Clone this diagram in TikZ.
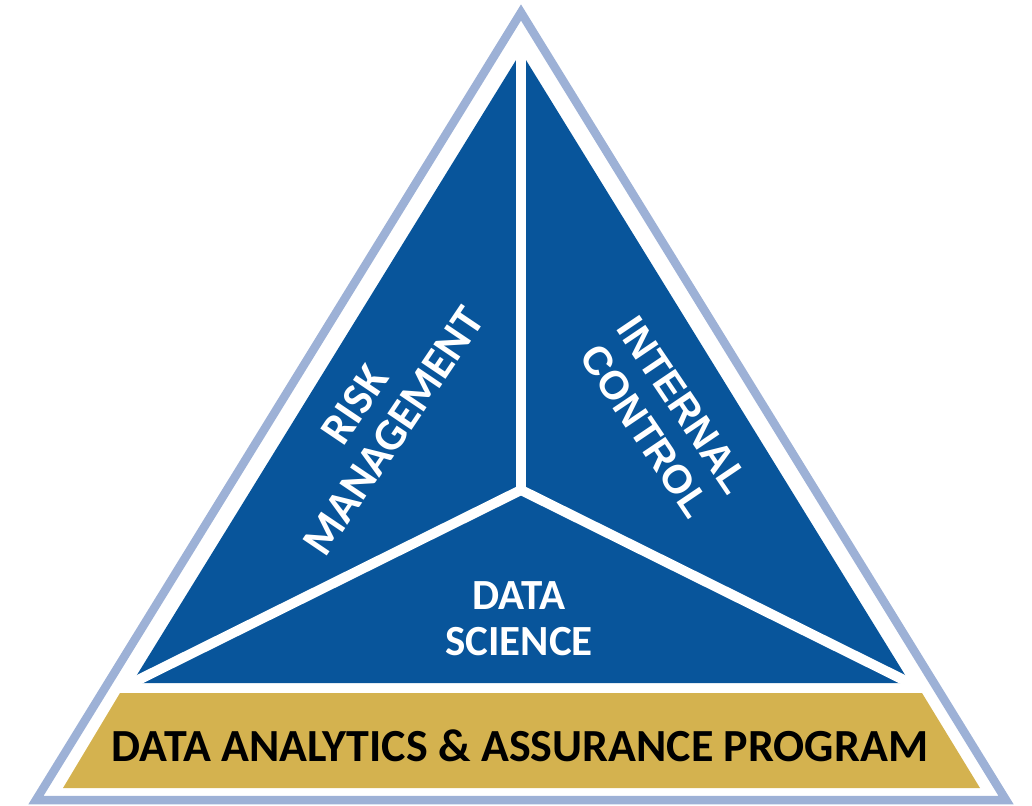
\documentclass[tikz,border=0pt]{standalone}
\usepackage{fontspec}
\setmainfont{Carlito}
\newfontfamily\arialfont{Liberation Sans}
\usetikzlibrary{calc,positioning}
\definecolor{rimblue}{HTML}{9DB1D6}
\definecolor{pillarblue}{HTML}{08559B}
\definecolor{basegold}{HTML}{D4B24F}

\begin{document}
\begin{tikzpicture}[x=1pt, y=1pt,
        pillar/.style={text=white, align=center, inner sep=0pt, font=\bfseries\fontsize{43}{46}\selectfont},
        divider/.style={white, line width=10pt}]
            \useasboundingbox (0,0) rectangle (1032,-805);
            \coordinate (apex) at (521,-52);
            \coordinate (left) at (132,-683);
            \coordinate (right) at (910,-683);
            \coordinate (hub) at (521,-490);

            \draw[rimblue, line width=8.5pt, line join=miter] (521,-12.5) -- (1006,-800) -- (36,-800) -- cycle;
            \fill[pillarblue] (apex) -- (right) -- (left) -- cycle;
            \draw[divider] (hub) -- ($(hub)!1.05!(apex)$);
            \draw[divider] (hub) -- ($(hub)!1.05!(left)$);
            \draw[divider] (hub) -- ($(hub)!1.05!(right)$);
            \fill[basegold] (120,-693) -- (922,-693) -- (980,-788) -- (63,-788) -- cycle;

            \node[pillar, rotate=56, font=\bfseries\fontsize{45}{47}\selectfont] at (374,-418) (risk) {RISK\\MANAGEMENT};
            \node[pillar, rotate=-56, font=\arialfont\bfseries\fontsize{40}{46}\selectfont] at (664,-418) (control) {INTERNAL\\CONTROL};
            \node[pillar] at (519,-619) (science) {DATA\\SCIENCE};
            \node[inner sep=0pt, font=\bfseries\fontsize{46}{46}\selectfont] at (520,-746) (program) {DATA ANALYTICS \& ASSURANCE PROGRAM};
        \end{tikzpicture}
\end{document}
